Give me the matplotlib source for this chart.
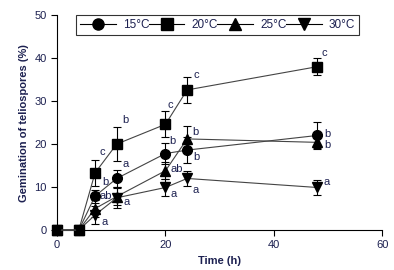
import numpy as np
import matplotlib
matplotlib.use("Agg")
import matplotlib.pyplot as plt
from matplotlib.lines import Line2D

plt.rcParams['font.family'] = ['Liberation Sans Narrow', 'Liberation Sans', 'DejaVu Sans']

TEXT = "#1c2050"

time_h = [0, 4, 7, 11, 20, 24, 48]

g15 = [0, 0, 7.9, 12.0, 17.8, 18.6, 22.0]
e15 = [0, 0, 1.5, 2.0, 2.5, 3.0, 3.2]

g20 = [0, 0, 13.3, 20.0, 24.6, 32.6, 38.0]
e20 = [0, 0, 3.0, 4.0, 3.0, 3.0, 2.0]

g25 = [0, 0, 5.0, 7.8, 13.8, 21.2, 20.4]
e25 = [0, 0, 2.0, 2.0, 2.0, 3.0, 1.4]

g30 = [0, 0, 3.5, 7.5, 9.9, 12.0, 9.9]
e30 = [0, 0, 2.2, 2.4, 2.0, 1.8, 1.8]

series = [
    ("15°C", g15, e15, "o"),
    ("20°C", g20, e20, "s"),
    ("25°C", g25, e25, "^"),
    ("30°C", g30, e30, "v"),
]

# significance letters: (x, y, letter)
letters = [
    (8.3, 18.2, "c"), (8.9, 11.2, "b"), (9.0, 7.9, "ab"), (8.7, 1.9, "a"),
    (12.6, 25.7, "b"), (12.6, 15.3, "a"), (12.8, 6.6, "a"),
    (20.9, 29.2, "c"), (21.2, 20.7, "b"), (22.0, 14.3, "ab"), (21.5, 8.5, "a"),
    (25.6, 36.0, "c"), (25.6, 22.9, "b"), (25.7, 17.0, "b"), (25.6, 9.3, "a"),
    (49.4, 41.3, "c"), (49.8, 22.3, "b"), (49.8, 19.8, "b"), (49.8, 11.1, "a"),
]

fig = plt.figure(figsize=(3.94, 2.70), dpi=100)
ax = fig.add_axes([0.145, 0.148, 0.825, 0.796])

handles = []
for label, vals, errs, mk in series:
    ax.errorbar(time_h, vals, yerr=errs, color="#444444", linewidth=0.8,
                ecolor="black", elinewidth=0.8, capsize=3, capthick=0.8,
                marker=mk, markersize=7, markerfacecolor="black",
                markeredgecolor="black", clip_on=False, zorder=3)
    handles.append(Line2D([], [], color="black", linewidth=0.8, marker=mk,
                          markersize=8, markerfacecolor="black", label=label))

for x, y, t in letters:
    ax.text(x, y, t, color=TEXT, fontsize=8, va="center", ha="center")

ax.set_xlim(0, 60)
ax.set_ylim(0, 50)
ax.set_xticks([0, 20, 40, 60])
ax.set_yticks([0, 10, 20, 30, 40, 50])
ax.spines["top"].set_visible(False)
ax.spines["right"].set_visible(False)
ax.tick_params(direction="out", length=4, width=0.8, labelsize=8, labelcolor=TEXT)

ax.set_xlabel("Time (h)", fontsize=8, fontweight="bold", color=TEXT)
ax.set_ylabel("Gemination of teliospores (%)", fontsize=8, fontweight="bold", color=TEXT)

leg = ax.legend(handles=handles, loc="upper left",
                bbox_to_anchor=(0.058, 1.0, 0.871, 0), mode="expand", ncol=4,
                frameon=True, fancybox=False, fontsize=8.5, handlelength=3.0,
                handletextpad=0.6, borderpad=0.35, borderaxespad=0)
leg.get_frame().set_edgecolor("black")
leg.get_frame().set_linewidth(0.8)
for text in leg.get_texts():
    text.set_color(TEXT)

fig.savefig("out.png", dpi=100)
